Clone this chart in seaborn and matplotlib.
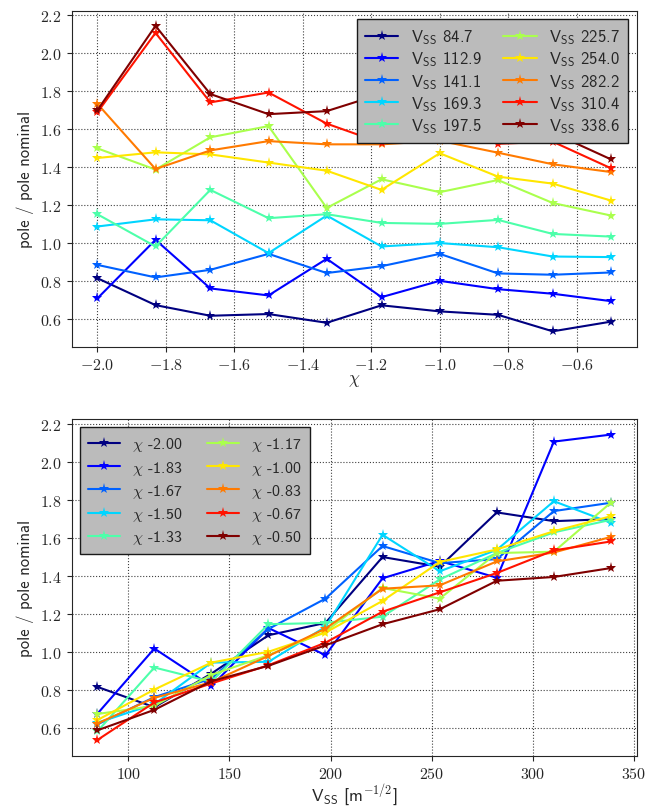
import numpy as np
import pandas as pd
import matplotlib
matplotlib.use("Agg")
import matplotlib.pyplot as plt
import seaborn as sns

# Swirl parameter and superficial velocity grids
chi_values = [-2.00, -1.83, -1.67, -1.50, -1.33, -1.17, -1.00, -0.83, -0.67, -0.50]
vss_values = [84.7, 112.9, 141.1, 169.3, 197.5, 225.7, 254.0, 282.2, 310.4, 338.6]

# pole / pole nominal, one list per chi (ordered along vss_values)
ratio_chi_m200 = [0.815, 0.708, 0.885, 1.087, 1.152, 1.499, 1.448, 1.734, 1.688, 1.699]
ratio_chi_m183 = [0.673, 1.017, 0.819, 1.125, 0.982, 1.387, 1.478, 1.390, 2.107, 2.144]
ratio_chi_m167 = [0.617, 0.761, 0.859, 1.120, 1.280, 1.557, 1.467, 1.488, 1.741, 1.785]
ratio_chi_m150 = [0.626, 0.724, 0.943, 0.947, 1.131, 1.616, 1.424, 1.537, 1.793, 1.679]
ratio_chi_m133 = [0.580, 0.917, 0.842, 1.145, 1.152, 1.185, 1.381, 1.520, 1.629, 1.695]
ratio_chi_m117 = [0.672, 0.715, 0.878, 0.982, 1.106, 1.336, 1.280, 1.520, 1.527, 1.786]
ratio_chi_m100 = [0.640, 0.801, 0.943, 1.000, 1.101, 1.268, 1.473, 1.539, 1.635, 1.714]
ratio_chi_m083 = [0.622, 0.757, 0.840, 0.978, 1.122, 1.332, 1.350, 1.476, 1.523, 1.605]
ratio_chi_m067 = [0.535, 0.733, 0.833, 0.929, 1.048, 1.211, 1.313, 1.415, 1.534, 1.581]
ratio_chi_m050 = [0.586, 0.694, 0.845, 0.926, 1.034, 1.145, 1.224, 1.374, 1.394, 1.441]

ratios = np.array([ratio_chi_m200, ratio_chi_m183, ratio_chi_m167, ratio_chi_m150,
                   ratio_chi_m133, ratio_chi_m117, ratio_chi_m100, ratio_chi_m083,
                   ratio_chi_m067, ratio_chi_m050])

vss_labels = [r"V$_{\mathsf{SS}}$ %.1f" % v for v in vss_values]
chi_labels = [r"$\chi$ %.2f" % c for c in chi_values]

rows = []
for i, c in enumerate(chi_values):
    for j, v in enumerate(vss_values):
        rows.append({"chi": c, "vss": v, "ratio": ratios[i, j],
                     "chi_label": chi_labels[i], "vss_label": vss_labels[j]})
df = pd.DataFrame(rows)

sns.set_style("ticks")
plt.rcParams["font.family"] = ["cmr10"]
plt.rcParams["mathtext.fontset"] = "cm"
plt.rcParams["axes.formatter.use_mathtext"] = True
plt.rcParams["axes.unicode_minus"] = True
plt.rcParams["font.size"] = 11

colors = [plt.cm.jet(x) for x in np.linspace(0, 1, 10)]

fig, (ax1, ax2) = plt.subplots(2, 1, figsize=(6.57, 8.12), dpi=100)
fig.subplots_adjust(left=0.109, right=0.969, top=0.9856, bottom=0.068, hspace=0.215)

line_kws = dict(marker="*", markersize=8, markeredgewidth=0, linewidth=1.5,
                errorbar=None, legend=False)

sns.lineplot(data=df, x="chi", y="ratio", hue="vss_label", hue_order=vss_labels,
             palette=colors, ax=ax1, **line_kws)
sns.lineplot(data=df, x="vss", y="ratio", hue="chi_label", hue_order=chi_labels,
             palette=colors, ax=ax2, **line_kws)

sans = "cmss10"
for ax, labels, loc, xlabel, fs, lsp, csp in [
    (ax1, vss_labels, "upper right", r"$\chi$", 12, 0.2, 1.3),
    (ax2, chi_labels, "upper left", r"V$_{\mathsf{SS}}$ [m$^{\mathsf{-1/2}}$]", 11.5, 0.33, 1.6),
]:
    ax.grid(True, linestyle=":", color="0.25", linewidth=0.8)
    ax.set_ylabel("pole / pole nominal", fontfamily=sans, fontsize=12)
    ax.set_xlabel(xlabel, fontfamily=sans, fontsize=12.5, labelpad=0.5)
    ax.tick_params(labelsize=11.5, direction="out", length=3.5)
    for s in ax.spines.values():
        s.set_visible(True)
        s.set_color("0.15")
    leg = ax.legend(handles=ax.lines[:len(labels)], labels=labels, loc=loc, ncol=2,
                    fancybox=False, framealpha=1.0, facecolor="#bbbbbb",
                    edgecolor="0.1", prop={"family": sans, "size": fs},
                    handlelength=2.0, handletextpad=0.75, columnspacing=csp,
                    borderpad=0.5, labelspacing=lsp)
    leg.get_frame().set_linewidth(1.0)

ax1.set_xticks([-2.0, -1.8, -1.6, -1.4, -1.2, -1.0, -0.8, -0.6])
ax1.set_yticks([0.6, 0.8, 1.0, 1.2, 1.4, 1.6, 1.8, 2.0, 2.2])
ax2.set_xticks([100, 150, 200, 250, 300, 350])
ax2.set_yticks([0.6, 0.8, 1.0, 1.2, 1.4, 1.6, 1.8, 2.0, 2.2])
ax1.set_xlim(-2.075, -0.425)
ax2.set_xlim(72.0, 351.3)
ax1.set_ylim(0.452, 2.224)
ax2.set_ylim(0.452, 2.224)

fig.savefig("out.png", dpi=100)
